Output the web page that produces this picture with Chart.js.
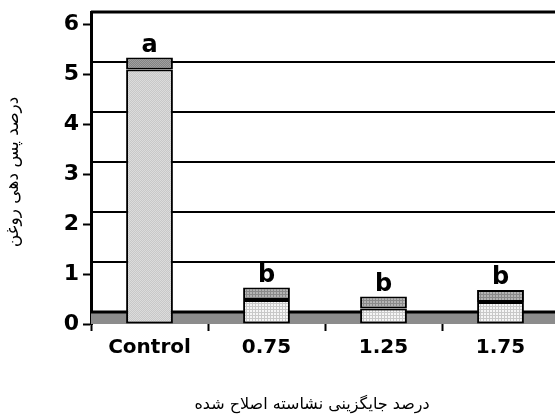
<!DOCTYPE html>
<html><head><meta charset="utf-8">
<script src="https://cdn.jsdelivr.net/npm/chart.js@4"></script>
<style>html,body{margin:0;padding:0;overflow:hidden;background:#fff}#wrap{width:570px;height:420px;position:relative}</style>
</head><body><div id="wrap"><canvas id="c"></canvas></div>
<script>
const categories = ['Control', '0.75', '1.25', '1.75'];
const lowerValues = [5.09, 0.48, 0.31, 0.44];
const upperValues = [0.24, 0.25, 0.24, 0.24];
const letters = ['a', 'b', 'b', 'b'];
const yTicks = [0, 1, 2, 3, 4, 5, 6];
const xTitle = 'درصد جایگزینی نشاسته اصلاح شده';
const yTitle = 'درصد پس دهی روغن';
const FLOOR = 0.24;

function pat(w, h, fn) {
  const c = document.createElement('canvas'); c.width = w; c.height = h;
  const x = c.getContext('2d');
  for (let i = 0; i < w; i++) for (let j = 0; j < h; j++) { x.fillStyle = fn(i, j); x.fillRect(i, j, 1, 1); }
  return x.createPattern(c, 'repeat');
}
const ctx0 = document.getElementById('c').getContext('2d');
const lightCtrl = pat(2, 2, (i, j) => (i + j) % 2 ? '#c8c8c8' : '#dcdcdc');
const lightGrid = pat(3, 3, (i, j) => (i === 0 || j === 0) ? '#c9c9c9' : '#f6f6f6');
const capCtrl = pat(2, 2, (i, j) => (i + j) % 2 ? '#848484' : '#a0a0a0');
const capGrid = pat(3, 3, (i, j) => (i === 0 || j === 0) ? '#8a8a8a' : '#b4b4b4');

const decor = {
  id: 'decor',
  beforeDatasetsDraw(chart) {
    const { ctx, chartArea: a, scales: { y } } = chart;
    ctx.save();
    const yf = y.getPixelForValue(FLOOR), y0 = y.getPixelForValue(0);
    ctx.fillStyle = '#8c8c8c';
    ctx.fillRect(a.left, yf, a.right - a.left, y0 - yf);
    ctx.strokeStyle = '#000';
    ctx.lineWidth = 3;
    ctx.beginPath(); ctx.moveTo(a.left, yf); ctx.lineTo(a.right, yf); ctx.stroke();
    ctx.lineWidth = 2;
    yTicks.slice(1, -1).forEach(v => {
      const p = Math.round(y.getPixelForValue(v + FLOOR));
      ctx.beginPath(); ctx.moveTo(a.left, p); ctx.lineTo(a.right, p); ctx.stroke();
    });
    ctx.lineWidth = 3;
    ctx.beginPath(); ctx.moveTo(a.left, a.top); ctx.lineTo(a.right, a.top); ctx.stroke();
    ctx.restore();
  },
  afterDatasetsDraw(chart) {
    const { ctx } = chart;
    const meta = chart.getDatasetMeta(1);
    ctx.save();
    ctx.fillStyle = '#000';
    ctx.font = 'bold 24px "DejaVu Sans"';
    ctx.textAlign = 'center';
    ctx.textBaseline = 'alphabetic';
    meta.data.forEach((el, i) => { ctx.fillText(letters[i], el.x, el.y - 6); });
    ctx.font = '16px "DejaVu Sans"';
    ctx.textBaseline = 'middle';
    ctx.fillText(xTitle, 312, 405);
    ctx.translate(14, 172);
    ctx.rotate(-Math.PI / 2);
    ctx.font = '17px "DejaVu Sans"';
    ctx.fillText(yTitle, 0, 0);
    ctx.restore();
  }
};

new Chart(ctx0, {
  type: 'bar',
  data: {
    labels: categories,
    datasets: [
      { data: lowerValues, backgroundColor: [lightCtrl, lightGrid, lightGrid, lightGrid], borderColor: '#000', borderWidth: 2, borderSkipped: false, barPercentage: 0.4, categoryPercentage: 1 },
      { data: upperValues, backgroundColor: [capCtrl, capGrid, capGrid, capGrid], borderColor: '#000', borderWidth: 2, borderSkipped: false, barPercentage: 0.4, categoryPercentage: 1 }
    ]
  },
  options: {
    responsive: true, maintainAspectRatio: false, animation: false,
    layout: { padding: { top: 12, right: 11, left: 0, bottom: 0 } },
    plugins: { legend: { display: false }, tooltip: { enabled: false } },
    scales: {
      x: {
        stacked: true,
        afterFit: s => { s.height = 96; s.paddingLeft = 0; s.paddingRight = 0; },
        grid: { drawOnChartArea: false, drawTicks: true, tickLength: 7, tickColor: '#000', tickWidth: 2, offset: true },
        border: { display: false },
        ticks: { color: '#000', font: { family: 'DejaVu Sans', weight: 'bold', size: 20 }, padding: 5 }
      },
      y: {
        stacked: true, min: 0, max: 6.24,
        afterFit: s => { s.width = 91; s.paddingTop = 0; s.paddingBottom = 0; },
        afterBuildTicks: s => { s.ticks = yTicks.map(v => ({ value: v })); },
        grid: { drawOnChartArea: false, drawTicks: true, tickLength: 8, tickColor: '#000', tickWidth: 2 },
        border: { display: true, color: '#000', width: 3 },
        ticks: { color: '#000', font: { family: 'DejaVu Sans', weight: 'bold', size: 22 }, padding: 4 }
      }
    }
  },
  plugins: [decor]
});
</script></body></html>
